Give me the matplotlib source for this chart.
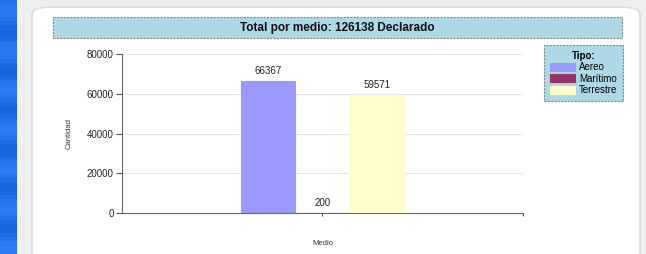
import numpy as np
import matplotlib
matplotlib.use("Agg")
import matplotlib.pyplot as plt
from matplotlib.patches import Rectangle, FancyBboxPatch

plt.rcParams["font.family"] = ["Liberation Sans", "DejaVu Sans"]

# data
tipos = ["Aereo", "Marítimo", "Terrestre"]
cantidades = [66367, 200, 59571]
colores = ["#9999ff", "#993366", "#ffffcc"]
titulo = "Total por medio: 126138 Declarado"
yticks = [0, 20000, 40000, 60000, 80000]

W, H = 646, 254
fig = plt.figure(figsize=(W / 100, H / 100), dpi=100)
fig.patch.set_facecolor("#efefef")


def fx(px):
    return px / W


def fy(py):
    return 1 - py / H


# blue strip on the left
strip = fig.add_axes([0, 0, fx(17), 1])
grad = np.linspace(0, 1, 60).reshape(-1, 1) * np.array([[1, 1]])
strip.imshow(np.sin(grad * 40) * 0.5 + 0.5, aspect="auto", cmap=matplotlib.colors.LinearSegmentedColormap.from_list(
    "b", ["#1766e0", "#2a7cf5"]), extent=[0, 1, 0, 1])
strip.axis("off")

# white panel
panel = FancyBboxPatch((fx(32), fy(254 + 20)), fx(640 - 32), fy(7) - fy(274),
                       boxstyle="round,pad=0,rounding_size=0.03",
                       transform=fig.transFigure, facecolor="white",
                       edgecolor="#dcdcdc", linewidth=1.2, zorder=-2)
fig.patches.append(panel)

# title box
tb = Rectangle((fx(53), fy(38)), fx(622 - 53), fy(17) - fy(38),
               transform=fig.transFigure, facecolor="#add8e6",
               edgecolor="#888888", linestyle=(0, (2, 1)), linewidth=0.8, zorder=-1)
fig.patches.append(tb)
fig.text(fx(337), fy(27.5), titulo, ha="center", va="center",
         fontsize=8.5, fontweight="bold", color="#111111")

ax = fig.add_axes([fx(122), fy(213), fx(523 - 122), fy(54) - fy(213)])
ax.set_facecolor("none")
ax.set_zorder(2)

w = 0.135
x = np.array([-1, 0, 1]) * w
bars = ax.bar(x, cantidades, width=w, color=colores, edgecolor=colores,
              linewidth=0.8, zorder=3)
for xi, v in zip(x, cantidades):
    ax.text(xi, v + 2500, str(v), ha="center", va="bottom", fontsize=7, color="#222222")

ax.set_xlim(-0.5, 0.5)
ax.set_ylim(0, 80000)
ax.set_yticks(yticks)
ax.set_yticklabels([str(t) for t in yticks], fontsize=7, color="#222222")
ax.yaxis.grid(True, color="#e4e4e4", linewidth=0.8, zorder=0)
ax.set_axisbelow(True)
ax.set_xticks([0, 0.5])
ax.set_xticklabels(["", ""])
ax.tick_params(axis="y", length=4, width=0.8, color="#555555", pad=2)
ax.tick_params(axis="x", length=2, width=0.8, color="#555555")
for s in ["top", "right"]:
    ax.spines[s].set_visible(False)
for s in ["left", "bottom"]:
    ax.spines[s].set_color("#666666")
    ax.spines[s].set_linewidth(0.8)
ax.set_xlabel("Medio", fontsize=5.5, color="#333333", labelpad=14)
ax.set_ylabel("Cantidad", fontsize=5.5, color="#333333", labelpad=10)

leg = fig.legend(bars, tipos, title="Tipo:", loc="upper left",
                 bbox_to_anchor=(fx(544), fy(45)), fontsize=7,
                 title_fontproperties={"weight": "bold", "size": 7},
                 handlelength=2.6, handleheight=0.9, handletextpad=0.4,
                 labelspacing=0.15, borderpad=0.6, borderaxespad=0,
                 fancybox=False, framealpha=1)
leg.set_zorder(3)
frame = leg.get_frame()
frame.set_facecolor("#add8e6")
frame.set_edgecolor("#888888")
frame.set_linestyle((0, (2, 1)))
frame.set_linewidth(0.8)

fig.savefig("out.png", dpi=100)
